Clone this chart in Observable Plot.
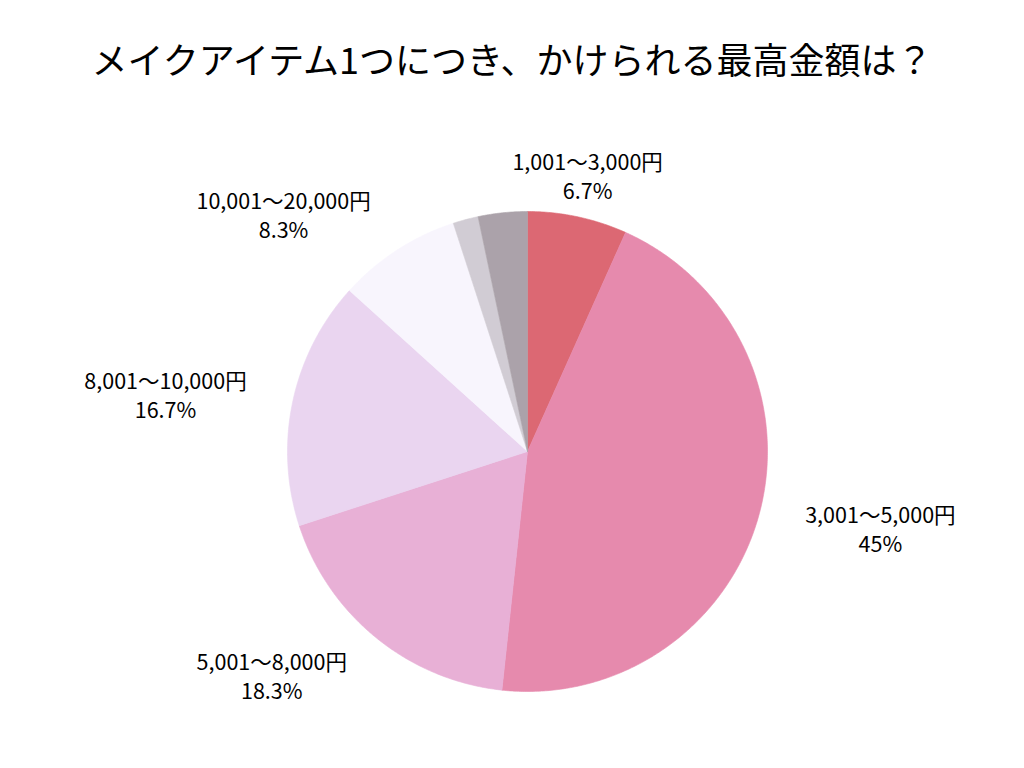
<!DOCTYPE html>
<html><head><meta charset="utf-8">
<script src="https://cdn.jsdelivr.net/npm/d3@7"></script>
<script src="https://cdn.jsdelivr.net/npm/@observablehq/plot@0.6"></script>
<style>
html,body{margin:0;padding:0;background:#fff;}
#title{height:100px;line-height:116px;text-align:center;font-family:"Noto Sans CJK JP";font-size:36px;color:#000;white-space:nowrap;}
</style></head>
<body>
<div id="title">メイクアイテム1つにつき、かけられる最高金額は？</div>
<div id="chart"></div>
<script>
const categories = ["1,001～3,000円","3,001～5,000円","5,001～8,000円","8,001～10,000円","10,001～20,000円","20,001円以上","その他"];
const values = [6.7, 45, 18.3, 16.7, 8.3, 1.7, 3.3];
const showLabel = [true, true, true, true, true, false, false];
const colors = ["#dc6873","#e68aad","#e8b0d6","#ead5f0","#f8f5fd","#d1ccd4","#aba2aa"];

// layout
const W = 1024, H = 668, cx = 527, cy = 351, R = 240;
const labelDist = [1.18, 1.505, 1.417, 1.527, 1.419, 1.4, 1.4];
const labelAngleShift = [0.2, -2.8, 9.7, -3.1, -12.8, 0, 0];

const pie = d3.pie().sort(null).value(d => d.value);
const rows = categories.map((c, i) => ({category: c, value: values[i], i}));
const arcs = pie(rows);

const polyPts = [];
for (const a of arcs) {
  const c = a.data.category;
  polyPts.push({category: c, x: 0, y: 0});
  const n = Math.max(2, Math.ceil((a.endAngle - a.startAngle) / (Math.PI / 360)));
  for (let k = 0; k <= n; k++) {
    const t = a.startAngle + (a.endAngle - a.startAngle) * k / n;
    polyPts.push({category: c, x: Math.sin(t), y: Math.cos(t)});
  }
  polyPts.push({category: c, x: 0, y: 0});
}

const fmt = v => (Number.isInteger(v) ? String(v) : v.toFixed(1)) + "%";
const labels = arcs.filter(a => showLabel[a.data.i]).map(a => {
  const i = a.data.i;
  const m = (a.startAngle + a.endAngle) / 2 + labelAngleShift[i] * Math.PI / 180;
  return {x: Math.sin(m) * labelDist[i], y: Math.cos(m) * labelDist[i], text: a.data.category + "\n" + fmt(a.data.value)};
});

const chart = Plot.plot({
  width: W, height: H,
  margin: 0,
  x: {domain: [-cx / R, (W - cx) / R], axis: null},
  y: {domain: [-(H - cy) / R, cy / R], axis: null},
  color: {domain: categories, range: colors},
  style: {background: "#fff"},
  marks: [
    Plot.line(polyPts, {x: "x", y: "y", z: "category", fill: "category", stroke: "category", strokeWidth: 0.6, curve: "linear"}),
    Plot.text(labels, {x: "x", y: "y", text: "text", fontSize: 21.5, lineHeight: 1.35, fill: "#000", fontFamily: "Noto Sans CJK JP", textAnchor: "middle"})
  ]
});
document.getElementById("chart").appendChild(chart);
</script>
</body></html>
